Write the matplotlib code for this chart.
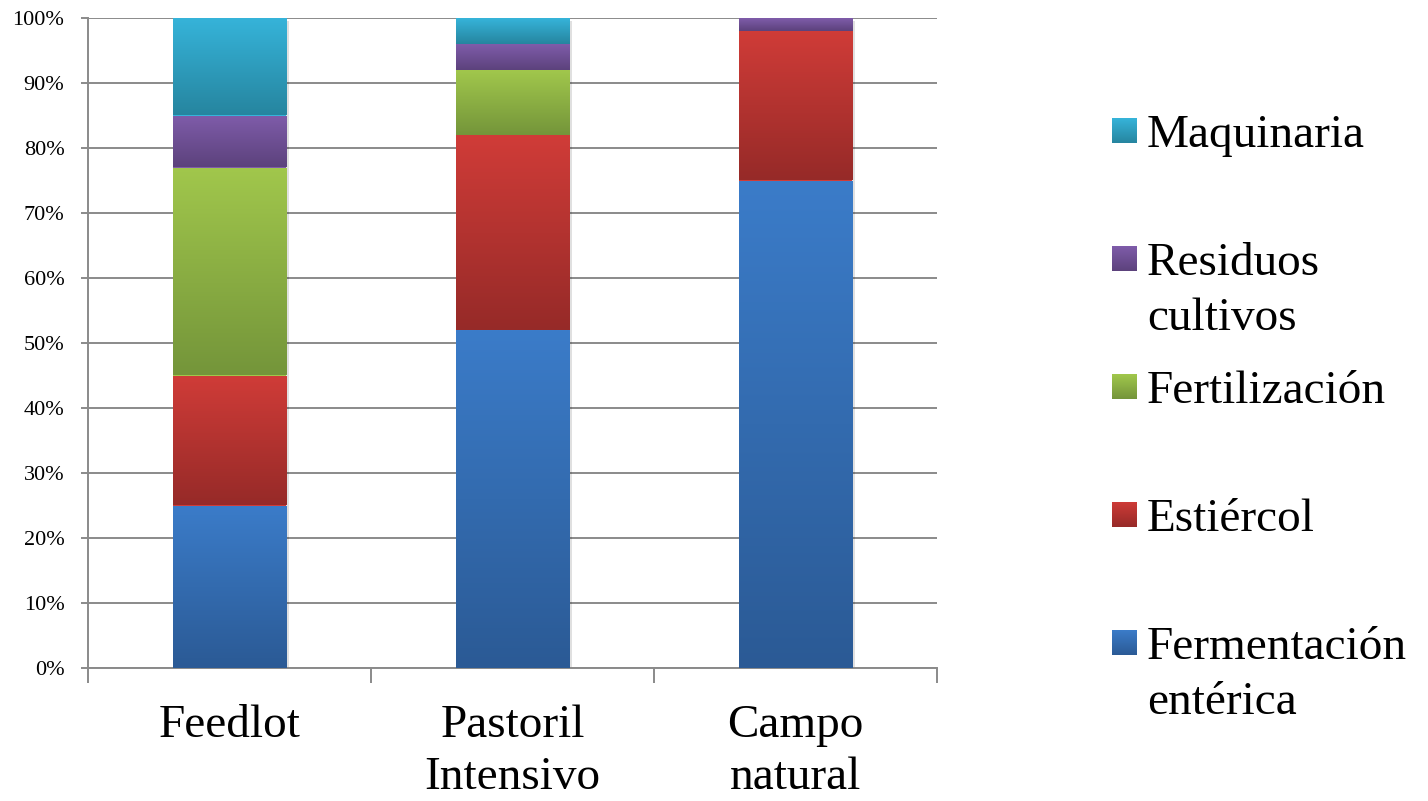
import numpy as np
import matplotlib
matplotlib.use('Agg')
import matplotlib.pyplot as plt
from matplotlib.colors import LinearSegmentedColormap
import matplotlib.patheffects as pe

# ---------------- data ----------------
categories = ['Feedlot', 'Pastoril\nIntensivo', 'Campo\nnatural']
series_names = ['Fermentación\nentérica', 'Estiércol', 'Fertilización',
                'Residuos\ncultivos', 'Maquinaria']
fermentacion = [25, 52, 75]
estiercol = [20, 30, 23]
fertilizacion = [32, 10, 0]
residuos = [8, 4, 2]
maquinaria = [15, 4, 0]
y_ticks = [0, 10, 20, 30, 40, 50, 60, 70, 80, 90, 100]
y_tick_labels = [f'{t}%' for t in y_ticks]

series = [fermentacion, estiercol, fertilizacion, residuos, maquinaria]
# (top colour, bottom colour) for each series gradient
colors = [('#3b7cc9', '#2b5a95'),
          ('#d03c38', '#962a28'),
          ('#a1c74c', '#74953a'),
          ('#7f5caa', '#5c427c'),
          ('#36b4da', '#26859f')]

W, H = 1428, 801
FONT = 'Liberation Serif'
GRAY = '#8a8a8a'

plt.rcParams['font.family'] = [FONT, 'DejaVu Serif']

fig = plt.figure(figsize=(W / 100, H / 100), dpi=100)
ax = fig.add_axes([88 / W, 1 - 668 / H, (937 - 88) / W, (668 - 18) / H])

x = np.arange(len(categories))
bar_w = 0.4
totals = np.sum(np.array(series), axis=0)

# faint shadow behind bars (shadow only, no face)
ax.bar(x, totals, bar_w, color='k', linewidth=0, zorder=2.5,
       path_effects=[pe.SimplePatchShadow(offset=(2, -2), shadow_rgbFace='k', alpha=0.12)])

bottom = np.zeros(len(categories))
grad = np.linspace(0, 1, 256).reshape(-1, 1)
for vals, (ctop, cbot) in zip(series, colors):
    vals = np.array(vals, dtype=float)
    bars = ax.bar(x, vals, bar_w, bottom=bottom, color=ctop, linewidth=0, zorder=3)
    cmap = LinearSegmentedColormap.from_list('g', [cbot, ctop])
    for b in bars:
        if b.get_height() <= 0:
            continue
        x0, y0, bw, bh = b.get_x(), b.get_y(), b.get_width(), b.get_height()
        im = ax.imshow(grad, cmap=cmap, extent=(x0, x0 + bw, y0, y0 + bh),
                       origin='lower', aspect='auto', zorder=3.5,
                       interpolation='bilinear')
        im.set_clip_path(b)
    bottom += vals

ax.set_xlim(-0.5, len(categories) - 0.5)
ax.set_ylim(0, 100)
ax.set_aspect('auto')

ax.set_yticks(y_ticks)
ax.set_yticklabels(y_tick_labels, fontsize=16)
ax.yaxis.grid(True, color=GRAY, linewidth=1.4, zorder=0)
ax.set_axisbelow(True)

ax.set_xticks(x)
ax.set_xticklabels(categories, fontsize=34, linespacing=1.3)
ax.set_xticks(np.arange(-0.5, len(categories), 1), minor=True)
ax.tick_params(axis='x', which='major', length=0, pad=26)
ax.tick_params(axis='x', which='minor', length=11, width=1.4, color=GRAY)
ax.tick_params(axis='y', length=5, width=1.4, color=GRAY, pad=12)

for s in ['top', 'right']:
    ax.spines[s].set_visible(False)
for s in ['left', 'bottom']:
    ax.spines[s].set_color(GRAY)
    ax.spines[s].set_linewidth(1.4)

# ---------------- legend (top to bottom: reverse series order) ----------------
leg_x_sq = 1112
leg_x_txt = 1147
first_baseline = 147
row_step = 128
line_step = 55
for i, (name, (ctop, cbot)) in enumerate(zip(series_names[::-1], colors[::-1])):
    base = first_baseline + i * row_step
    sq_top = base - 29
    lax = fig.add_axes([leg_x_sq / W, 1 - (sq_top + 25) / H, 25 / W, 25 / H])
    lax.imshow(grad, cmap=LinearSegmentedColormap.from_list('g', [cbot, ctop]),
               origin='lower', aspect='auto', extent=(0, 1, 0, 1))
    lax.axis('off')
    for k, line in enumerate(name.split('\n')):
        fig.text(leg_x_txt / W, 1 - (base + k * line_step) / H, line,
                 fontsize=34, va='baseline', ha='left', color='black')

fig.savefig('out.png', dpi=100)
